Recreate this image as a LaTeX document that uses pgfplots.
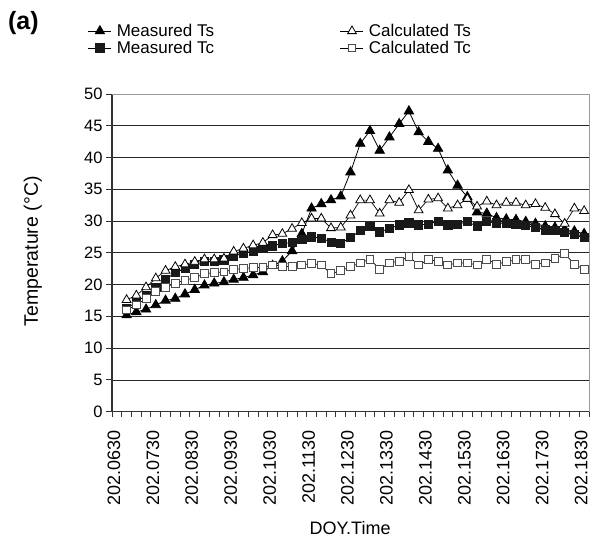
\documentclass[border=0pt]{standalone}
\usepackage{fontspec}
\setmainfont{Liberation Sans}
\usepackage{pgfplots}
\pgfplotsset{compat=1.18}
\pgfplotstableread{
k MTs MTc CTs CTc
1 15.2 16.2 17.6 16.0
2 15.7 17.3 18.3 16.8
3 16.1 18.3 19.6 17.8
4 16.8 19.6 21.0 18.9
5 17.5 20.8 22.2 19.6
6 17.8 21.9 22.8 20.2
7 18.5 22.5 23.2 20.7
8 19.2 23.2 23.6 21.1
9 19.9 23.6 24.0 21.7
10 20.2 23.7 24.0 21.9
11 20.4 23.9 24.1 22.0
12 20.8 24.5 25.2 22.4
13 21.1 24.9 25.7 22.5
14 21.5 25.3 26.2 22.7
15 22.0 25.7 26.6 22.7
16 23.0 26.1 27.8 23.1
17 23.7 26.5 28.0 22.9
18 25.3 26.6 28.8 22.8
19 28.0 27.1 29.7 23.1
20 32.0 27.5 30.4 23.3
21 32.7 27.3 30.4 23.1
22 33.3 26.7 28.9 21.7
23 33.9 26.5 29.0 22.2
24 37.7 27.4 30.9 22.8
25 42.2 28.5 33.3 23.4
26 44.2 29.1 33.3 24.0
27 41.1 28.3 31.2 22.4
28 43.2 28.8 33.3 23.4
29 45.3 29.4 32.9 23.7
30 47.3 29.7 34.9 24.4
31 44.0 29.4 31.7 23.1
32 42.5 29.5 33.4 23.9
33 41.4 30.0 33.6 23.7
34 38.0 29.4 32.0 23.1
35 35.6 29.5 32.5 23.4
36 33.8 29.9 33.5 23.4
37 31.4 29.2 32.3 23.1
38 31.2 29.9 33.1 24.0
39 30.5 29.7 32.5 23.2
40 30.3 29.6 32.9 23.6
41 30.2 29.5 32.9 23.9
42 29.9 29.3 32.5 23.9
43 29.6 29.0 32.7 23.2
44 29.2 28.6 32.1 23.4
45 29.0 28.5 31.1 24.1
46 28.7 28.2 29.6 24.9
47 28.4 27.9 32.0 23.2
48 28.0 27.4 31.6 22.4
}\datatable
\begin{document}
\begin{tikzpicture}[x=1pt,y=1pt]
\path[use as bounding box] (0,0) rectangle (590,544);
\node[anchor=west,font=\fontsize{25}{29}\selectfont\bfseries] at (4.5,521) {(a)};
\begin{axis}[
  at={(112pt,132.3pt)}, anchor=south west,
  scale only axis, width=477pt, height=317.7pt,
  xmin=-0.5, xmax=48.5, ymin=0, ymax=50,
  axis x line*=bottom, axis y line*=left,
  axis line style={-, black!80, line width=1.2pt},
  xtick={0,4,...,48},
  xticklabels={202.0630,202.0730,202.0830,202.0930,202.1030,202.1130,202.1230,202.1330,202.1430,202.1530,202.1630,202.1730,202.1830},
  major x tick style={draw=none},
  minor xtick={-0.5,0.5,...,48.5},
  minor x tick style={black!80, line width=0.9pt},
  minor tick length=5pt,
  ytick={0,5,...,50},
  major y tick style={black!80, line width=0.9pt},
  major tick length=6pt,
  tick align=outside,
  ymajorgrids, grid style={black!85, line width=0.8pt},
  /pgf/number format/assume math mode=true,
  xticklabel shift=11.8pt,
  xticklabel style={font=\fontsize{18}{21}\selectfont, inner sep=0.5pt, rotate=90, anchor=east, yshift=3pt},
  yticklabel style={font=\fontsize{16.5}{19}\selectfont},
  xlabel={DOY.Time}, ylabel={Temperature (°C)},
  xlabel style={at={(axis description cs:0.499,-0.388)}, anchor=base, font=\fontsize{18}{21}\selectfont},
  ylabel style={at={(axis description cs:-0.166,0.505)}, anchor=center, font=\fontsize{19.5}{22}\selectfont},
  legend columns=2, transpose legend,
  legend style={at={(-0.057,1.233)}, anchor=north west, draw=none, fill=none,
    font=\fontsize{17}{18}\selectfont, row sep=-1pt,
    /tikz/every odd column/.append style={column sep=3pt},
    /tikz/every even column/.append style={column sep=124pt}},
  legend image code/.code={\draw[mark repeat=2,mark phase=2] plot coordinates {(0pt,0pt) (11.5pt,0pt) (23pt,0pt)};},
  clip=false,
]
\addplot[black, line width=0.8pt, mark=triangle*, mark size=5.4pt, mark options={fill=black, solid}] table[x=k,y=MTs] {\datatable};
\addlegendentry{Measured Ts}
\addplot[black, line width=0.8pt, mark=square*, mark size=4.1pt, mark options={fill=black!90, draw=black!90, solid}] table[x=k,y=MTc] {\datatable};
\addlegendentry{Measured Tc}
\addplot[black, line width=0.7pt, mark=triangle*, mark size=5.1pt, mark options={fill=white, draw=black, line width=0.8pt, solid}] table[x=k,y=CTs] {\datatable};
\addlegendentry{Calculated Ts}
\addplot[black, line width=0.7pt, mark=square*, mark size=3.9pt, mark options={fill=white, draw=black!70, line width=0.9pt, solid}] table[x=k,y=CTc] {\datatable};
\addlegendentry{Calculated Tc}
\draw[black!40, line width=1pt] (rel axis cs:0,1) -- (rel axis cs:1,1) -- (rel axis cs:1,0);
\end{axis}
\end{tikzpicture}
\end{document}
